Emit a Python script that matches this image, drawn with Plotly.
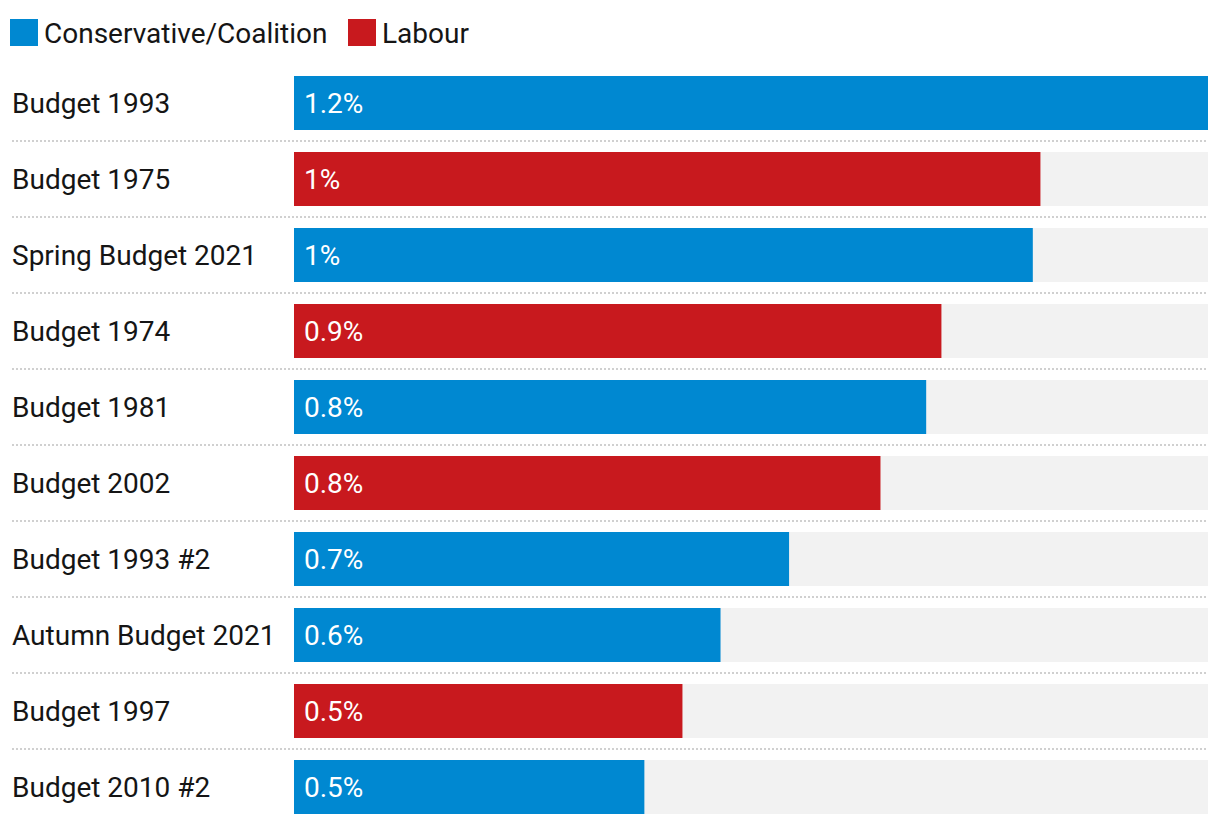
import plotly.graph_objects as go

# ---- data ----
budgets = ["Budget 1993", "Budget 1975", "Spring Budget 2021", "Budget 1974", "Budget 1981",
           "Budget 2002", "Budget 1993 #2", "Autumn Budget 2021", "Budget 1997", "Budget 2010 #2"]
values = [1.2, 0.98, 0.97, 0.85, 0.83, 0.77, 0.65, 0.56, 0.51, 0.46]
value_labels = ["1.2%", "1%", "1%", "0.9%", "0.8%", "0.8%", "0.7%", "0.6%", "0.5%", "0.5%"]
parties = ["Conservative/Coalition", "Labour", "Conservative/Coalition", "Labour", "Conservative/Coalition",
           "Labour", "Conservative/Coalition", "Conservative/Coalition", "Labour", "Conservative/Coalition"]
party_names = ["Conservative/Coalition", "Labour"]
party_colors = {"Conservative/Coalition": "#0088D1", "Labour": "#C8191E"}
max_value = 1.2

# page body has an 8px margin, so the figure is offset by 8px
OFF = 8
W, H = 1220 - OFF, 826 - OFF
L, R, T, B = 294 - OFF, 12, 65 - OFF, 1
plot_w = W - L - R
plot_h = H - T - B
FONT = "Roboto"
FS = 28
TXT = "#151515"

row_px = plot_h / len(budgets)
bar_w = 54 / row_px

def px_x(p):  # page pixel -> paper x
    return (p - OFF - L) / plot_w

def px_y(p):  # page pixel -> paper y
    return 1 - (p - OFF - T) / plot_h

fig = go.Figure()
# background track bars
fig.add_trace(go.Bar(
    x=[max_value] * len(budgets), y=budgets, orientation="h",
    marker=dict(color="#F2F2F2", line=dict(width=0)), width=bar_w,
    hoverinfo="skip", showlegend=False))
# value bars
fig.add_trace(go.Bar(
    x=values, y=budgets, orientation="h",
    marker=dict(color=[party_colors[p] for p in parties], line=dict(width=0)), width=bar_w,
    showlegend=False, hovertemplate="%{y}: %{x}<extra></extra>"))

annotations = []
shapes = []
for b, lab in zip(budgets, value_labels):
    annotations.append(dict(x=px_x(10), xref="paper", y=b, yref="y", text=b, showarrow=False,
                            xanchor="left", yanchor="middle",
                            font=dict(family=FONT, size=FS, color=TXT)))
    annotations.append(dict(x=0, xref="x", y=b, yref="y", text=lab, showarrow=False,
                            xanchor="left", yanchor="middle", xshift=8,
                            font=dict(family=FONT, size=FS, color="#FFFFFF")))

# dotted separators between rows
for i in range(len(budgets) - 1):
    shapes.append(dict(type="line", xref="paper", yref="y",
                       x0=px_x(12), x1=1, y0=i + 0.5, y1=i + 0.5,
                       line=dict(color="#D0D0D0", width=2, dash="2px,2px")))

# custom legend (square swatches + text)
legend_x = [10, 348]
for px, name in zip(legend_x, party_names):
    shapes.append(dict(type="rect", xref="paper", yref="paper",
                       x0=px_x(px), x1=px_x(px + 28), y0=px_y(46), y1=px_y(19),
                       fillcolor=party_colors[name], line=dict(width=0)))
    annotations.append(dict(x=px_x(px + 32), xref="paper", y=px_y(33), yref="paper",
                            text=name, showarrow=False, xanchor="left", yanchor="middle",
                            font=dict(family=FONT, size=FS, color=TXT)))

fig.update_layout(
    width=W, height=H,
    margin=dict(l=L, r=R, t=T, b=B, pad=0),
    barmode="overlay",
    plot_bgcolor="white", paper_bgcolor="white",
    xaxis=dict(range=[0, max_value], showgrid=False, zeroline=False, showticklabels=False,
               fixedrange=True),
    yaxis=dict(autorange="reversed", showgrid=False, zeroline=False, showticklabels=False,
               fixedrange=True),
    annotations=annotations, shapes=shapes,
    showlegend=False,
)

fig.write_html("out.html")
